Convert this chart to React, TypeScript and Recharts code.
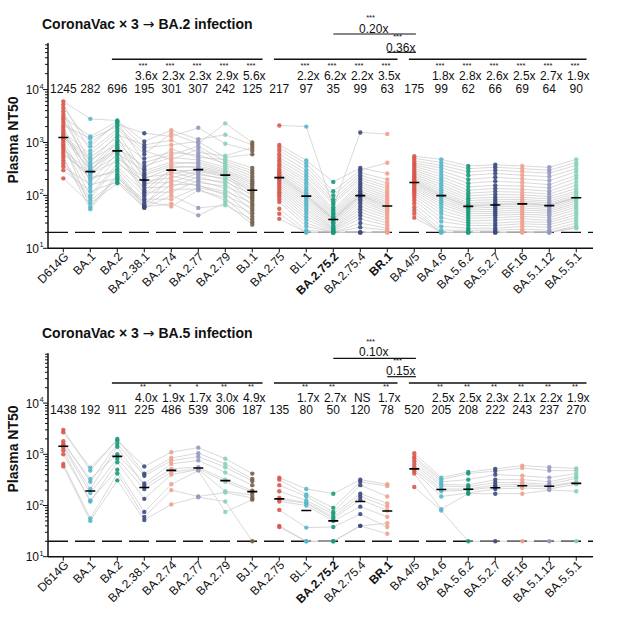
import React from "react"
import { ComposedChart, ReferenceLine, Scatter, XAxis, YAxis } from "recharts"

const FONT = '"Liberation Sans", Arial, Helvetica, sans-serif'
const INK = "#111"

const variants = [
  "D614G", "BA.1", "BA.2", "BA.2.38.1", "BA.2.74", "BA.2.77", "BA.2.79", "BJ.1",
  "BA.2.75", "BL.1", "BA.2.75.2", "BA.2.75.4", "BR.1",
  "BA.4/5", "BA.4.6", "BA.5.6.2", "BA.5.2.7", "BF.16", "BA.5.1.12", "BA.5.5.1",
]
const boldVariants = ["BA.2.75.2", "BR.1"]
const variantColors = [
  "#d9584d", "#58b7c9", "#1a9a7d", "#3c4b82", "#f0a08e", "#9298c0", "#86d1b8", "#74614d",
  "#d9584d", "#58b7c9", "#1a9a7d", "#3c4b82", "#f0a08e",
  "#d9584d", "#58b7c9", "#1a9a7d", "#3c4b82", "#f0a08e", "#9298c0", "#86d1b8",
]
// variants whose values are joined per donor by grey lines
const lineGroups = [
  [0, 1, 2, 3, 4, 5, 6, 7],
  [8, 9, 10, 11, 12],
  [13, 14, 15, 16, 17, 18, 19],
]
// fold-change brackets: first and last variant under each bar
const bracketSpans = [[2, 7], [8, 12], [13, 19]]

// ---- CoronaVac x3 -> BA.2 infection ----
const ba2Title = "CoronaVac × 3 → BA.2 infection"
const ba2Medians = [1245, 282, 696, 195, 301, 307, 242, 125, 217, 97, 35, 99, 63, 175, 99, 62, 66, 69, 64, 90]
const ba2Folds = ["", "", "", "3.6x", "2.3x", "2.3x", "2.9x", "5.6x", "", "2.2x", "6.2x", "2.2x", "3.5x", "", "1.8x", "2.8x", "2.6x", "2.5x", "2.7x", "1.9x"]
const ba2Stars = ["", "", "", "***", "***", "***", "***", "***", "", "***", "***", "***", "***", "", "***", "***", "***", "***", "***", "***"]
const ba2CrossPairs = [[10, 13], [12, 13]]
const ba2CrossFolds = ["0.20x", "0.36x"]
const ba2CrossStars = ["***", "***"]
// one row per variant, one column per donor
const ba2Titers = [
  [6000, 4500, 5200, 3000, 3900, 2400, 3400, 2100, 2700, 1550, 1900, 1320, 1700, 1230, 1420, 1050, 1260, 870, 1150, 720, 950, 580, 800, 460, 650, 350, 520, 300, 400, 210],
  [2800, 1000, 700, 1300, 420, 850, 300, 1200, 350, 600, 240, 520, 180, 470, 290, 140, 380, 100, 320, 275, 60, 260, 200, 90, 220, 160, 55, 120, 80, 70],
  [2600, 2200, 1800, 2500, 1400, 2400, 1000, 2000, 1100, 1600, 780, 1250, 620, 920, 850, 500, 720, 400, 672, 560, 250, 450, 310, 350, 280, 210, 230, 180, 195, 170],
  [1050, 1500, 600, 800, 900, 420, 320, 700, 500, 260, 360, 205, 290, 155, 240, 220, 125, 185, 105, 170, 65, 140, 95, 115, 70, 85, 62, 78, 58, 60],
  [1700, 1300, 1500, 900, 1100, 580, 750, 470, 650, 390, 520, 330, 430, 292, 360, 255, 310, 215, 275, 175, 235, 145, 195, 115, 160, 85, 130, 62, 100, 70],
  [1150, 1900, 950, 1050, 650, 850, 520, 750, 580, 430, 470, 360, 395, 300, 335, 315, 245, 285, 205, 265, 175, 225, 150, 190, 160, 140, 132, 125, 58, 42],
  [1400, 950, 2300, 520, 560, 440, 480, 370, 400, 310, 340, 275, 290, 236, 260, 248, 210, 225, 180, 195, 150, 165, 120, 135, 100, 110, 80, 90, 65, 72],
  [900, 700, 1000, 600, 800, 290, 330, 230, 260, 185, 205, 155, 170, 130, 140, 112, 120, 96, 104, 80, 88, 65, 72, 52, 58, 40, 46, 31, 35, 28],
  [2100, 800, 900, 600, 700, 460, 520, 370, 410, 300, 330, 255, 275, 225, 240, 195, 210, 165, 180, 138, 150, 115, 126, 95, 105, 75, 85, 45, 56, 36],
  [2000, 400, 460, 300, 350, 230, 260, 180, 200, 140, 160, 112, 125, 99, 104, 88, 95, 72, 80, 58, 65, 46, 52, 35, 40, 26, 30, 20, 22, 20],
  [60, 120, 180, 85, 100, 68, 75, 50, 55, 43, 46, 38, 40, 35, 36, 33, 35, 29, 31, 25, 27, 23, 24, 21, 22, 20, 20, 20, 20, 20],
  [1550, 300, 330, 240, 270, 195, 215, 160, 175, 132, 145, 112, 120, 100, 105, 92, 98, 78, 85, 62, 70, 48, 55, 36, 42, 25, 30, 20, 20, 20],
  [1450, 415, 260, 170, 200, 135, 150, 108, 120, 90, 98, 75, 82, 65, 70, 57, 61, 49, 53, 41, 45, 33, 37, 27, 30, 22, 24, 20, 20, 20],
  [500, 550, 450, 380, 410, 350, 295, 320, 270, 230, 250, 215, 190, 200, 180, 160, 170, 150, 130, 140, 120, 100, 110, 90, 70, 80, 60, 45, 52, 38],
  [420, 480, 370, 290, 330, 255, 200, 225, 180, 145, 160, 130, 108, 118, 101, 90, 97, 82, 68, 75, 60, 45, 52, 38, 26, 32, 22, 20, 20, 20],
  [320, 360, 280, 200, 240, 170, 125, 145, 110, 88, 98, 80, 67, 72, 63, 57, 61, 53, 45, 49, 41, 33, 37, 30, 24, 27, 22, 20, 20, 20],
  [340, 380, 300, 220, 260, 185, 135, 155, 118, 92, 104, 83, 70, 76, 67, 60, 65, 55, 46, 50, 42, 34, 38, 30, 24, 27, 22, 20, 20, 20],
  [320, 360, 280, 205, 240, 175, 130, 150, 115, 92, 102, 84, 73, 78, 70, 63, 68, 58, 48, 53, 44, 36, 40, 32, 26, 29, 23, 21, 20, 20],
  [300, 340, 265, 190, 225, 160, 120, 138, 106, 86, 95, 78, 67, 72, 65, 59, 63, 54, 46, 50, 42, 34, 38, 31, 25, 28, 22, 20, 20, 20],
  [420, 480, 370, 280, 320, 240, 180, 210, 155, 120, 135, 110, 94, 100, 91, 84, 89, 78, 66, 72, 60, 48, 54, 43, 34, 38, 30, 25, 27, 24],
]

// ---- CoronaVac x3 -> BA.5 infection ----
const ba5Title = "CoronaVac × 3 → BA.5 infection"
const ba5Medians = [1438, 192, 911, 225, 486, 539, 306, 187, 135, 80, 50, 120, 78, 520, 205, 208, 222, 243, 237, 270]
const ba5Folds = ["", "", "", "4.0x", "1.9x", "1.7x", "3.0x", "4.9x", "", "1.7x", "2.7x", "NS", "1.7x", "", "2.5x", "2.5x", "2.3x", "2.1x", "2.2x", "1.9x"]
const ba5Stars = ["", "", "", "**", "*", "*", "**", "**", "", "**", "**", "", "**", "", "**", "**", "**", "**", "**", "**"]
const ba5CrossPairs = [[10, 13], [12, 13]]
const ba5CrossFolds = ["0.10x", "0.15x"]
const ba5CrossStars = ["***", "***"]
const ba5Titers = [
  [3000, 2700, 1800, 1600, 1500, 1380, 1200, 1000, 650, 580],
  [480, 550, 290, 330, 210, 175, 120, 125, 56, 50],
  [2000, 1850, 1600, 1000, 1400, 822, 700, 500, 420, 310],
  [420, 580, 380, 270, 240, 210, 135, 75, 60, 52],
  [850, 1100, 750, 650, 520, 452, 400, 260, 200, 105],
  [1050, 1350, 900, 760, 560, 518, 505, 480, 150, 145],
  [650, 820, 560, 440, 320, 292, 190, 75, 180, 120],
  [330, 420, 300, 250, 195, 179, 160, 130, 140, 20],
  [350, 320, 250, 190, 140, 130, 120, 82, 40, 38],
  [210, 165, 150, 125, 115, 110, 100, 37, 20, 20],
  [170, 90, 75, 68, 60, 55, 50, 38, 20, 20],
  [320, 290, 250, 170, 150, 130, 95, 68, 40, 40],
  [260, 240, 150, 110, 95, 80, 60, 38, 28, 45],
  [1050, 900, 820, 720, 630, 560, 500, 470, 420, 230],
  [350, 320, 290, 260, 240, 210, 190, 150, 85, 80],
  [450, 420, 320, 250, 230, 210, 200, 175, 170, 20],
  [520, 470, 400, 320, 280, 250, 230, 210, 170, 20],
  [600, 540, 380, 320, 280, 260, 240, 220, 170, 20],
  [560, 480, 350, 290, 260, 240, 230, 210, 200, 20],
  [530, 480, 420, 370, 340, 290, 280, 260, 190, 20],
]

const LOD = 20
const X_MIN = -0.567
const X_MAX = 19.62
const CHART_W = 627
const CHART_H = 316
const MARGIN_TOP = 2

type Layout = {
  floor: number
  decade: number
  axisTopPx: number
  crossLine: number[]
  crossText: number[]
  crossStar: number[]
  bracket: number
  star: number
  fold: number
  median: number
}

// pixel rows inside each chart, converted to titres through the log scale
const ba2Layout: Layout = {
  floor: 248.3, decade: 52.9, axisTopPx: 43,
  crossLine: [34, 52.3], crossText: [32.5, 51.5], crossStar: [20, 39],
  bracket: 59.3, star: 67.5, fold: 80, median: 92.7,
}
const ba5Layout: Layout = {
  floor: 247.7, decade: 51.2, axisTopPx: 44.3,
  crossLine: [49.3, 67.7], crossText: [47, 66], crossStar: [34.5, 53.5],
  bracket: 74, star: 80.2, fold: 92.7, median: 105.3,
}

function VariantTick(props: any) {
  const { x, y, payload } = props
  const name = variants[payload.value]
  const tx = x + 6
  const ty = y + 5
  return (
    <text
      x={tx}
      y={ty}
      transform={`rotate(-45 ${tx} ${ty})`}
      textAnchor="end"
      fontSize={12}
      fontFamily={FONT}
      fontWeight={boldVariants.includes(name) ? 700 : 400}
      fill={INK}
    >
      {name}
    </text>
  )
}

function TiterTick(props: any) {
  const { x, y, payload } = props
  const e = Math.log10(payload.value)
  const major = Math.abs(e - Math.round(e)) < 1e-6
  return (
    <g>
      <line x1={x - (major ? 5 : 3)} x2={x} y1={y} y2={y} stroke={INK} strokeWidth={1} />
      {major && (
        <text x={x - 9} y={y + 4.5} textAnchor="end" fontSize={12} fontFamily={FONT} fill={INK}>
          10
        </text>
      )}
      {major && (
        <text x={x - 8.5} y={y - 1} fontSize={7.5} fontFamily={FONT} fill={INK}>
          {Math.round(e)}
        </text>
      )}
    </g>
  )
}

const textShape = (size: number, dx = 0) => (p: any) => (
  <text x={p.cx + dx} y={p.cy} textAnchor="middle" fontSize={size} fontFamily={FONT} fill={INK}>
    {p.payload.text}
  </text>
)

const emptyShape = () => <g />

const medianShape = (p: any) => (
  <line x1={p.cx - 5} x2={p.cx + 5} y1={p.cy} y2={p.cy} stroke="#000" strokeWidth={1.6} />
)

function Panel(props: {
  titers: number[][]
  medians: number[]
  folds: string[]
  stars: string[]
  crossPairs: number[][]
  crossFolds: string[]
  crossStars: string[]
  layout: Layout
}) {
  const { titers, medians, folds, stars, crossPairs, crossFolds, crossStars, layout } = props
  const atPx = (px: number) => 10 ** (1 + (layout.floor - px) / layout.decade)
  const yMax = atPx(MARGIN_TOP)
  const axisTop = atPx(layout.axisTopPx)
  const yTicks: number[] = []
  for (let e = 1; e <= 5; e++) {
    for (let m = 1; m <= 9; m++) {
      const v = m * 10 ** e
      if (v <= axisTop) yTicks.push(v)
    }
  }
  const donors = titers[0].map((_, j) => j)

  const medianRow = medians.map((m, i) => ({ x: i, y: atPx(layout.median), text: String(m) }))
  const foldRow = folds
    .map((f, i) => ({ x: i, y: atPx(layout.fold), text: f }))
    .filter(d => d.text)
  const starRow = stars
    .map((s, i) => ({ x: i, y: atPx(layout.star), text: s }))
    .filter(d => d.text)
  const crossTextRow = crossPairs.map((p, k) => ({ x: (p[0] + p[1]) / 2, y: atPx(layout.crossText[k]), text: crossFolds[k] }))
  const crossStarRow = crossPairs.map((p, k) => ({ x: (p[0] + p[1]) / 2 - 0.12, y: atPx(layout.crossStar[k]), text: crossStars[k] }))

  return (
    <ComposedChart
      width={CHART_W}
      height={CHART_H}
      margin={{ top: MARGIN_TOP, right: CHART_W - 593, bottom: 0, left: 8 }}
    >
      <XAxis
        type="number"
        dataKey="x"
        domain={[X_MIN, X_MAX]}
        allowDataOverflow
        ticks={variants.map((_, i) => i)}
        interval={0}
        height={CHART_H - layout.floor}
        axisLine={{ stroke: INK, strokeWidth: 1.5 }}
        tickLine={{ stroke: INK, strokeWidth: 1 }}
        tickSize={4}
        tickMargin={0}
        tick={(p: any) => <VariantTick {...p} />}
      />
      <YAxis
        type="number"
        dataKey="y"
        scale="log"
        domain={[10, yMax]}
        allowDataOverflow
        ticks={yTicks}
        interval={0}
        width={40}
        axisLine={false}
        tickLine={false}
        tickSize={0}
        tickMargin={0}
        tick={(p: any) => <TiterTick {...p} />}
      />
      <ReferenceLine
        segment={[{ x: X_MIN, y: 10 }, { x: X_MIN, y: axisTop }]}
        stroke={INK}
        strokeWidth={1.5}
        ifOverflow="visible"
      />
      <ReferenceLine y={LOD} stroke={INK} strokeWidth={1.4} strokeDasharray="20 7" ifOverflow="visible" />

      {lineGroups.map((g, gi) =>
        donors.map(j => (
          <Scatter
            key={`l-${gi}-${j}`}
            data={g.map(i => ({ x: i, y: titers[i][j] }))}
            line={{ stroke: "#c4c4c4", strokeWidth: 0.65 }}
            shape={emptyShape}
            isAnimationActive={false}
          />
        ))
      )}

      {titers.map((row, i) => (
        <Scatter
          key={`p-${i}`}
          data={row.map(v => ({ x: i, y: v }))}
          shape={(p: any) => (
            <circle cx={p.cx} cy={p.cy} r={2.2} fill={variantColors[i]} fillOpacity={0.9} />
          )}
          isAnimationActive={false}
        />
      ))}

      <Scatter
        data={medians.map((m, i) => ({ x: i, y: m }))}
        shape={medianShape}
        isAnimationActive={false}
      />

      {bracketSpans.map(([a, b]) => (
        <ReferenceLine
          key={`b-${a}`}
          segment={[{ x: a - 0.2, y: atPx(layout.bracket) }, { x: b + 0.38, y: atPx(layout.bracket) }]}
          stroke={INK}
          strokeWidth={1.5}
          ifOverflow="visible"
        />
      ))}
      {crossPairs.map((p, k) => (
        <ReferenceLine
          key={`c-${k}`}
          segment={[{ x: p[0], y: atPx(layout.crossLine[k]) }, { x: p[1] + 0.06, y: atPx(layout.crossLine[k]) }]}
          stroke={INK}
          strokeWidth={1.2}
          ifOverflow="visible"
        />
      ))}

      <Scatter data={medianRow} shape={textShape(12)} isAnimationActive={false} />
      <Scatter data={foldRow} shape={textShape(12, 2)} isAnimationActive={false} />
      <Scatter data={starRow} shape={textShape(7.5, -1.3)} isAnimationActive={false} />
      <Scatter data={crossTextRow} shape={textShape(12)} isAnimationActive={false} />
      <Scatter data={crossStarRow} shape={textShape(7.5)} isAnimationActive={false} />
    </ComposedChart>
  )
}

function Title({ text }: { text: string }) {
  const [before, after] = text.split("→")
  return (
    <text x={42} y={28.5} fontSize={14} fontWeight={700} fontFamily={FONT} fill={INK}>
      {before}
      <tspan fontFamily='"DejaVu Sans", sans-serif' fontWeight={400}>→</tspan>
      {after}
    </text>
  )
}

export default function App() {
  const panels = [
    { top: 0, title: ba2Title, titers: ba2Titers, medians: ba2Medians, folds: ba2Folds, stars: ba2Stars, crossPairs: ba2CrossPairs, crossFolds: ba2CrossFolds, crossStars: ba2CrossStars, layout: ba2Layout },
    { top: 309, title: ba5Title, titers: ba5Titers, medians: ba5Medians, folds: ba5Folds, stars: ba5Stars, crossPairs: ba5CrossPairs, crossFolds: ba5CrossFolds, crossStars: ba5CrossStars, layout: ba5Layout },
  ]
  return (
    <div style={{ position: "absolute", left: 0, top: 0, width: 627, height: 625, background: "#fff", overflow: "hidden" }}>
      {panels.map(p => (
        <div key={p.title} style={{ position: "absolute", left: 0, top: p.top }}>
          <Panel
            titers={p.titers}
            medians={p.medians}
            folds={p.folds}
            stars={p.stars}
            crossPairs={p.crossPairs}
            crossFolds={p.crossFolds}
            crossStars={p.crossStars}
            layout={p.layout}
          />
        </div>
      ))}
      <svg width={627} height={625} style={{ position: "absolute", left: 0, top: 0, pointerEvents: "none" }}>
        {panels.map(p => (
          <g key={p.title} transform={`translate(0 ${p.top})`}>
            <Title text={p.title} />
            <text
              x={17.5}
              y={140}
              transform={`rotate(-90 17.5 140)`}
              textAnchor="middle"
              fontSize={14}
              fontWeight={700}
              fontFamily={FONT}
              fill={INK}
            >
              Plasma NT50
            </text>
          </g>
        ))}
      </svg>
    </div>
  )
}
